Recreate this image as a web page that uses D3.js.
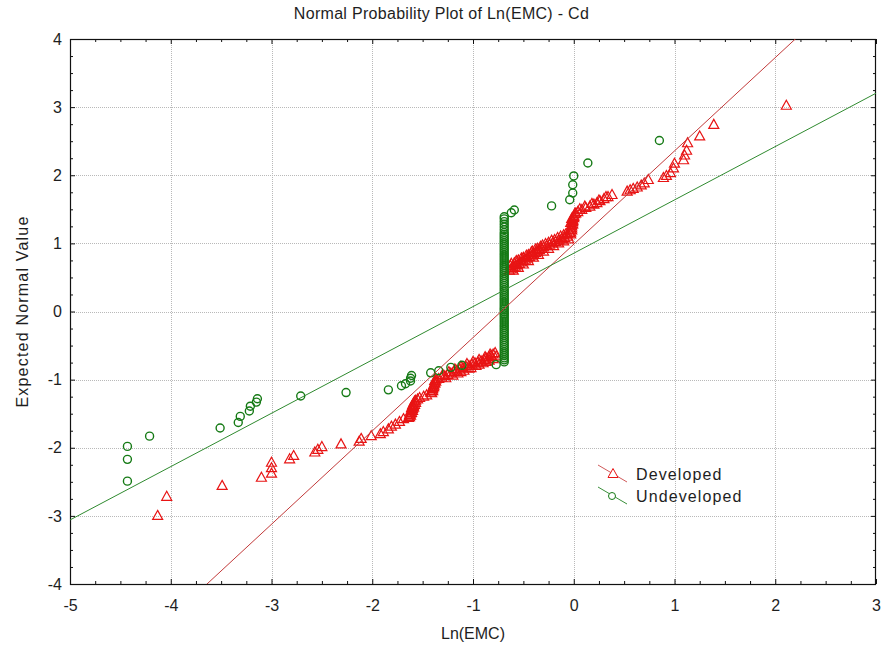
<!DOCTYPE html>
<html>
<head>
<meta charset="utf-8">
<script src="https://cdn.jsdelivr.net/npm/d3@7"></script>
<style>
  body { margin: 0; background: #fff; }
  svg { display: block; }
  text { font-family: "Liberation Sans", Arial, sans-serif; fill: #1e1e1e; }
</style>
</head>
<body>
<svg id="chart" width="883" height="651"></svg>
<script>
// Axis ticks
const xTicks = [-5, -4, -3, -2, -1, 0, 1, 2, 3];
const yTicks = [-4, -3, -2, -1, 0, 1, 2, 3, 4];

// Ln(EMC) vs expected normal value, Developed sites
const developedPoints = [
  [-4.13,-3.00],[-4.04,-2.72],[-3.49,-2.56],[-3.10,-2.44],[-3.00,-2.38],[-3.00,-2.30],[-3.00,-2.22],
  [-2.82,-2.17],[-2.78,-2.12],[-2.57,-2.07],[-2.54,-2.03],[-2.50,-1.99],[-2.31,-1.95],[-2.13,-1.91],
  [-2.11,-1.87],[-2.01,-1.83],[-1.92,-1.80],[-1.89,-1.77],[-1.84,-1.73],[-1.81,-1.69],[-1.77,-1.66],
  [-1.73,-1.62],[-1.69,-1.58],
  [-1.64,-1.56],[-1.63,-1.55],[-1.63,-1.52],[-1.62,-1.53],[-1.62,-1.50],[-1.62,-1.47],[-1.61,-1.49],
  [-1.61,-1.45],[-1.61,-1.42],[-1.60,-1.46],[-1.60,-1.43],[-1.60,-1.40],[-1.60,-1.38],[-1.59,-1.41],
  [-1.59,-1.39],[-1.59,-1.35],[-1.58,-1.37],[-1.58,-1.32],[-1.57,-1.34],[-1.57,-1.31],[-1.55,-1.29],
  [-1.53,-1.27],[-1.49,-1.25],[-1.46,-1.23],
  [-1.42,-1.19],[-1.41,-1.20],[-1.41,-1.16],[-1.40,-1.17],[-1.40,-1.14],[-1.40,-1.12],[-1.39,-1.11],
  [-1.39,-1.09],[-1.39,-1.08],[-1.38,-1.06],[-1.38,-1.05],[-1.38,-1.02],[-1.37,-1.03],[-1.37,-1.00],
  [-1.34,-0.99],[-1.31,-0.97],[-1.28,-0.95],[-1.25,-0.93],[-1.22,-0.91],[-1.19,-0.89],[-1.16,-0.87],
  [-1.13,-0.85],[-1.10,-0.83],[-1.07,-0.81],[-1.04,-0.80],[-1.01,-0.78],[-0.98,-0.76],[-0.95,-0.75],
  [-0.92,-0.73],[-0.89,-0.71],[-0.87,-0.69],[-0.84,-0.67],[-0.82,-0.65],[-0.80,-0.63],[-0.78,-0.61],
  [-1.20,-0.94],[-1.12,-0.89],[-1.04,-0.84],[-0.97,-0.80],[-0.90,-0.76],[-0.84,-0.72],
  [-1.30,-0.93],[-1.24,-0.89],[-1.18,-0.85],[-1.12,-0.81],[-1.06,-0.77],[-1.00,-0.74],[-0.94,-0.71],
  [-0.88,-0.67],[-0.83,-0.63],
  [-1.27,-0.98],[-1.15,-0.91],[-1.09,-0.87],[-1.02,-0.83],[-0.94,-0.78],[-0.87,-0.74],[-0.80,-0.70],
  [-0.77,-0.66],
  [-0.64,0.60],[-0.62,0.62],[-0.60,0.64],[-0.58,0.66],[-0.56,0.68],[-0.54,0.70],[-0.52,0.72],
  [-0.50,0.74],[-0.48,0.76],[-0.46,0.78],[-0.44,0.80],[-0.42,0.82],[-0.40,0.84],[-0.38,0.86],
  [-0.36,0.88],[-0.34,0.90],[-0.32,0.92],[-0.30,0.94],[-0.27,0.96],[-0.24,0.98],[-0.21,1.00],
  [-0.18,1.02],[-0.15,1.04],[-0.12,1.06],[-0.09,1.08],[-0.06,1.10],
  [-0.63,0.67],[-0.59,0.71],[-0.55,0.75],[-0.50,0.79],[-0.45,0.83],[-0.41,0.88],[-0.36,0.92],
  [-0.31,0.97],[-0.25,1.01],[-0.19,1.05],[-0.13,1.10],[-0.08,1.13],
  [-0.60,0.60],[-0.55,0.64],[-0.50,0.69],[-0.45,0.74],[-0.40,0.79],[-0.35,0.83],[-0.30,0.88],
  [-0.25,0.92],[-0.20,0.96],[-0.15,1.00],[-0.10,1.03],[-0.05,1.06],
  [-0.62,0.70],[-0.57,0.74],[-0.52,0.78],[-0.47,0.82],[-0.42,0.87],[-0.38,0.91],[-0.33,0.95],
  [-0.28,0.99],[-0.22,1.04],[-0.16,1.08],[-0.10,1.12],[-0.06,1.14],
  [-0.04,1.15],[-0.03,1.13],[-0.03,1.16],[-0.03,1.20],[-0.03,1.30],[-0.02,1.19],[-0.02,1.22],
  [-0.02,1.25],[-0.02,1.27],[-0.02,1.36],[-0.01,1.28],[-0.01,1.31],[-0.01,1.33],[-0.01,1.34],
  [0.00,1.37],[0.00,1.39],[0.00,1.40],[0.01,1.43],[0.02,1.44],
  [0.04,1.46],[0.06,1.50],[0.08,1.49],[0.11,1.54],[0.12,1.52],[0.16,1.54],[0.18,1.58],[0.20,1.57],
  [0.23,1.59],[0.25,1.63],[0.26,1.62],[0.30,1.65],[0.32,1.68],[0.34,1.68],[0.38,1.71],
  [0.53,1.76],[0.56,1.78],[0.59,1.80],[0.63,1.82],[0.67,1.85],[0.70,1.88],[0.74,1.93],
  [0.89,1.96],[0.92,1.99],[0.96,2.03],[0.99,2.10],[1.00,2.17],[1.09,2.22],[1.10,2.29],[1.12,2.36],
  [1.13,2.47],[1.25,2.57],[1.39,2.74],[2.11,3.02]
];

// Undeveloped sites: values above the reporting limit
const undevelopedPoints = [
  [-4.43,-2.49],[-4.43,-2.17],[-4.43,-1.98],[-4.21,-1.83],[-3.51,-1.71],[-3.33,-1.63],[-3.31,-1.54],
  [-3.22,-1.46],[-3.21,-1.39],[-3.15,-1.33],[-3.14,-1.28],[-2.71,-1.24],[-2.26,-1.19],[-1.84,-1.15],
  [-1.71,-1.09],[-1.67,-1.06],[-1.62,-1.02],[-1.62,-0.98],[-1.61,-0.94],[-1.42,-0.90],[-1.34,-0.87],
  [-1.22,-0.82],[-1.11,-0.79],[-0.77,-0.78],
  [-0.62,1.45],[-0.59,1.49],[-0.22,1.55],[-0.04,1.64],[-0.01,1.74],[-0.01,1.86],[0.00,1.99],
  [0.14,2.18],[0.85,2.51]
];

// Undeveloped sites: values at the reporting limit, Ln(EMC) = -0.69
const undevelopedLimitX = -0.69;
const undevelopedLimitY = [
  -0.74,-0.71,-0.68,-0.65,-0.62,-0.59,-0.56,-0.53,-0.50,-0.47,-0.44,-0.41,-0.38,-0.35,-0.32,
  -0.29,-0.26,-0.23,-0.20,-0.17,-0.14,-0.11,-0.08,-0.05,-0.03,0.00,0.03,0.05,0.08,0.11,0.14,
  0.17,0.20,0.23,0.26,0.29,0.32,0.35,0.38,0.41,0.44,0.47,0.50,0.53,0.56,0.59,0.62,0.65,0.68,
  0.71,0.74,0.77,0.80,0.83,0.86,0.89,0.92,0.95,0.98,1.01,1.04,1.07,1.10,1.13,1.16,1.20,1.24,
  1.28,1.32,1.36,1.39
];

// Fitted normal lines: expected = slope * Ln(EMC) + intercept
const developedFit = { slope: 1.370, intercept: 0.987 };
const undevelopedFit = { slope: 0.783, intercept: 0.855 };

const seriesNames = ["Developed", "Undeveloped"];

const W = 883, H = 651;
const plot = { left: 70, right: 876, top: 39, bottom: 584 };

const svg = d3.select("#chart");
const x = d3.scaleLinear().domain([-5, 3]).range([plot.left, plot.right]);
const y = d3.scaleLinear().domain([-4, 4]).range([plot.bottom, plot.top]);

const minorX = d3.range(-5, 3.001, 0.25).filter(v => Math.abs(v - Math.round(v)) > 1e-6);
const minorY = d3.range(-4, 4.001, 0.25).filter(v => Math.abs(v - Math.round(v)) > 1e-6);

svg.append("defs").append("clipPath").attr("id", "plotClip")
  .append("rect")
  .attr("x", plot.left).attr("y", plot.top)
  .attr("width", plot.right - plot.left).attr("height", plot.bottom - plot.top);

// grid
const grid = svg.append("g").attr("stroke", "#b9b9b9").attr("stroke-width", 1)
  .attr("stroke-dasharray", "1,1").attr("shape-rendering", "crispEdges");
grid.selectAll("line.gx").data(xTicks.slice(1, -1)).join("line")
  .attr("x1", d => Math.round(x(d)) + 0.5).attr("x2", d => Math.round(x(d)) + 0.5)
  .attr("y1", plot.top).attr("y2", plot.bottom);
grid.selectAll("line.gy").data(yTicks.slice(1, -1)).join("line")
  .attr("y1", d => Math.round(y(d)) + 0.5).attr("y2", d => Math.round(y(d)) + 0.5)
  .attr("x1", plot.left).attr("x2", plot.right);

// axes
function styleAxis(g) {
  g.select(".domain").remove();
  g.selectAll(".tick line").attr("stroke", "#111");
  g.selectAll(".tick text").attr("font-size", 16).attr("fill", "#1e1e1e")
    .attr("font-family", "'Liberation Sans', Arial, sans-serif");
}
const fmt = d => String(d);
svg.append("g").attr("transform", `translate(0,${plot.bottom})`)
  .call(d3.axisBottom(x).tickValues(xTicks).tickSize(-5).tickPadding(16).tickFormat(fmt)).call(styleAxis);
svg.append("g").attr("transform", `translate(0,${plot.bottom})`)
  .call(d3.axisBottom(x).tickValues(minorX).tickSize(-3).tickFormat("")).call(styleAxis);
svg.append("g").attr("transform", `translate(0,${plot.top})`)
  .call(d3.axisTop(x).tickValues(xTicks).tickSize(-5).tickFormat("")).call(styleAxis);
svg.append("g").attr("transform", `translate(0,${plot.top})`)
  .call(d3.axisTop(x).tickValues(minorX).tickSize(-3).tickFormat("")).call(styleAxis);
svg.append("g").attr("transform", `translate(${plot.left},0)`)
  .call(d3.axisLeft(y).tickValues(yTicks).tickSize(-5).tickPadding(8).tickFormat(fmt)).call(styleAxis);
svg.append("g").attr("transform", `translate(${plot.left},0)`)
  .call(d3.axisLeft(y).tickValues(minorY).tickSize(-3).tickFormat("")).call(styleAxis);
svg.append("g").attr("transform", `translate(${plot.right},0)`)
  .call(d3.axisRight(y).tickValues(yTicks).tickSize(-5).tickFormat("")).call(styleAxis);
svg.append("g").attr("transform", `translate(${plot.right},0)`)
  .call(d3.axisRight(y).tickValues(minorY).tickSize(-3).tickFormat("")).call(styleAxis);

// frame
svg.append("rect")
  .attr("x", plot.left + 0.5).attr("y", plot.top + 0.5)
  .attr("width", plot.right - plot.left - 1).attr("height", plot.bottom - plot.top)
  .attr("fill", "none").attr("stroke", "#111").attr("stroke-width", 1.2);

const tri = "M0,-5.5L5,3.5L-5,3.5Z";
const red = "#e81414", green = "#157a15";

const pts = svg.append("g").attr("clip-path", "url(#plotClip)");

pts.append("g").selectAll("path").data(developedPoints).join("path")
  .attr("d", tri)
  .attr("transform", d => `translate(${x(d[0])},${y(d[1])})`)
  .attr("fill", "none").attr("stroke", red).attr("stroke-width", 1.2);

const undevAll = undevelopedPoints.concat(undevelopedLimitY.map(v => [undevelopedLimitX, v]));
pts.append("g").selectAll("circle").data(undevAll).join("circle")
  .attr("cx", d => x(d[0])).attr("cy", d => y(d[1])).attr("r", 4)
  .attr("fill", "none").attr("stroke", green).attr("stroke-width", 1.4);

// fitted lines
const lineGen = d3.line().x(d => x(d[0])).y(d => y(d[1]));
const fitLine = f => [-5, 3].map(v => [v, f.slope * v + f.intercept]);
pts.append("path").attr("d", lineGen(fitLine(developedFit)))
  .attr("fill", "none").attr("stroke", "#c23a3a").attr("stroke-width", 1);
pts.append("path").attr("d", lineGen(fitLine(undevelopedFit)))
  .attr("fill", "none").attr("stroke", "#2f8a2f").attr("stroke-width", 1);

// titles
svg.append("text").attr("x", W / 2).attr("y", 19)
  .attr("text-anchor", "middle").attr("font-size", 16).attr("letter-spacing", 0.3)
  .text("Normal Probability Plot of Ln(EMC) - Cd");
svg.append("text").attr("x", (plot.left + plot.right) / 2).attr("y", 639)
  .attr("text-anchor", "middle").attr("font-size", 16)
  .text("Ln(EMC)");
svg.append("text")
  .attr("transform", `translate(28,${(plot.top + plot.bottom) / 2}) rotate(-90)`)
  .attr("text-anchor", "middle").attr("font-size", 16).attr("letter-spacing", 1.2)
  .text("Expected Normal Value");

// legend
const legend = svg.append("g").attr("transform", "translate(598,465)");
const legendRows = [
  { name: seriesNames[0], color: red, line: "#d05a5a", marker: "tri" },
  { name: seriesNames[1], color: green, line: "#3a8f3a", marker: "circle" }
];
legendRows.forEach((r, i) => {
  const g = legend.append("g").attr("transform", `translate(0,${i * 22})`);
  g.append("line").attr("x1", 0).attr("y1", 0).attr("x2", 29).attr("y2", 17)
    .attr("stroke", r.line).attr("stroke-width", 1);
  if (r.marker === "tri") {
    g.append("path").attr("d", tri).attr("transform", "translate(15,9)")
      .attr("fill", "#fff").attr("stroke", r.color);
  } else {
    g.append("circle").attr("cx", 14).attr("cy", 9).attr("r", 3.5)
      .attr("fill", "#fff").attr("stroke", r.color);
  }
  g.append("text").attr("x", 38).attr("y", 15).attr("font-size", 16).attr("letter-spacing", 1.1)
    .text(r.name);
});
</script>
</body>
</html>
